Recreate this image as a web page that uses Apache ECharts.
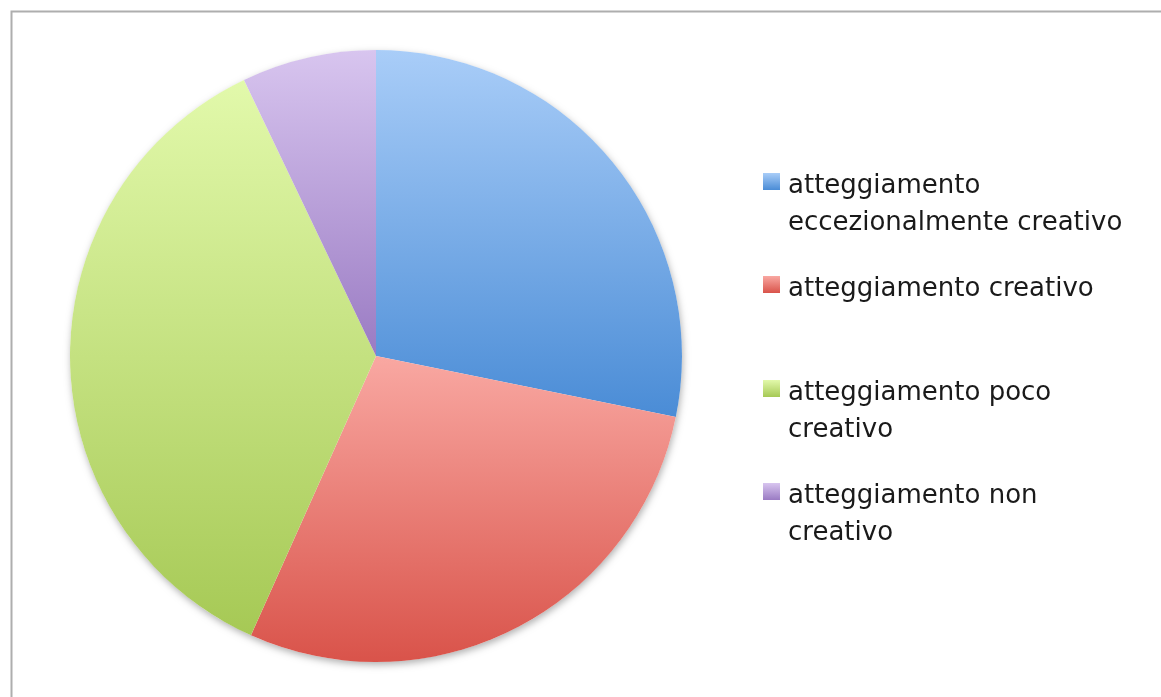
<!DOCTYPE html>
<html>
<head>
<meta charset="utf-8">
<script src="https://cdn.jsdelivr.net/npm/echarts@6/dist/echarts.min.js"></script>
<style>
  html, body { margin: 0; padding: 0; background: #ffffff; }
  #chart { width: 1161px; height: 697px; }
</style>
</head>
<body>
<div id="chart"></div>
<script>
// Categories (legend text, with line breaks as wrapped in the legend)
const categories = [
  'atteggiamento\neccezionalmente creativo',
  'atteggiamento creativo',
  'atteggiamento poco\ncreativo',
  'atteggiamento non\ncreativo'
];
// Share of each attitude (percent)
const values = [28.2, 28.5, 36.2, 7.1];
// Light (top) and dark (bottom) shade of each slice
const topColors = ['#a9cdf8', '#f9a8a2', '#e2f9ab', '#d8c5ef'];
const bottomColors = ['#4a8cd6', '#d9534a', '#a6c955', '#9a7bc3'];

const grad = (i) => new echarts.graphic.LinearGradient(0, 0, 0, 1, [
  { offset: 0, color: topColors[i] },
  { offset: 1, color: bottomColors[i] }
]);

const chart = echarts.init(document.getElementById('chart'), null, { renderer: 'canvas' });

// Legend entries: swatch aligned with the first line of each label
const legendTops = [173, 276, 380, 483];
const legendGraphics = [];
categories.forEach((name, i) => {
  legendGraphics.push({
    type: 'rect',
    left: 763, top: legendTops[i],
    shape: { width: 17, height: 17 },
    style: { fill: grad(i) }
  });
  legendGraphics.push({
    type: 'text',
    left: 788, top: legendTops[i] - 5,
    style: {
      text: name,
      fill: '#1a1a1a',
      font: '26px "DejaVu Sans", sans-serif',
      lineHeight: 37
    }
  });
});

chart.setOption({
  animation: false,
  backgroundColor: '#ffffff',
  graphic: [
    {
      type: 'rect',
      left: 9, top: 9,
      shape: { width: 1200, height: 800 },
      style: { fill: 'none', stroke: '#aeaeae', lineWidth: 2 },
      silent: true
    },
    ...legendGraphics
  ],
  series: [
    // soft drop shadow under the whole disc
    {
      type: 'pie',
      silent: true,
      z: 1,
      center: [376, 356],
      radius: 306,
      label: { show: false },
      labelLine: { show: false },
      itemStyle: {
        color: '#ffffff',
        shadowBlur: 7,
        shadowOffsetX: 1,
        shadowOffsetY: 3,
        shadowColor: 'rgba(0,0,0,0.3)'
      },
      data: [{ name: '', value: 1 }]
    },
    {
      type: 'pie',
      z: 2,
      center: [376, 356],
      radius: 306,
      startAngle: 90,
      clockwise: true,
      label: { show: false },
      labelLine: { show: false },
      emphasis: { disabled: true },
      data: categories.map((name, i) => ({
        name: name,
        value: values[i],
        itemStyle: { color: grad(i) }
      }))
    }
  ]
});
</script>
</body>
</html>
